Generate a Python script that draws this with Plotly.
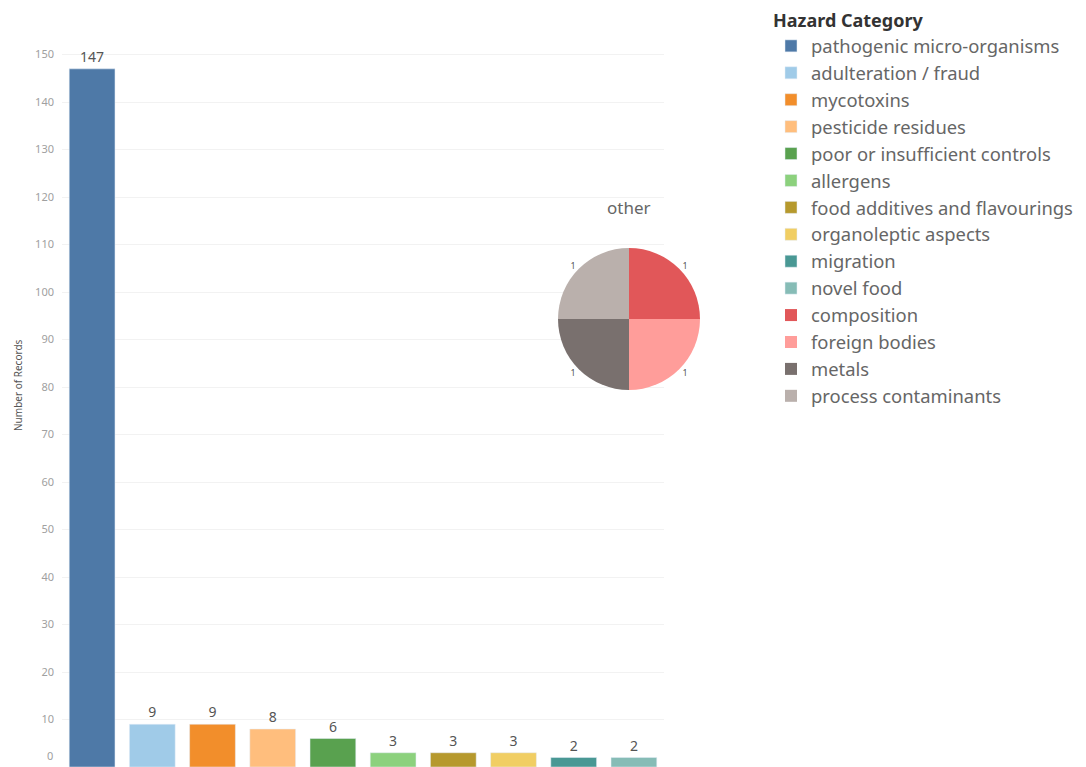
import plotly.graph_objects as go

bar_categories = ["pathogenic micro-organisms", "adulteration / fraud", "mycotoxins",
                  "pesticide residues", "poor or insufficient controls", "allergens",
                  "food additives and flavourings", "organoleptic aspects", "migration",
                  "novel food"]
bar_values = [147, 9, 9, 8, 6, 3, 3, 3, 2, 2]
bar_colors = ["#4E79A7", "#A0CBE8", "#F28E2B", "#FFBE7D", "#59A14F", "#8CD17D",
              "#B6992D", "#F1CE63", "#499894", "#86BCB6"]

pie_title = "other"
pie_categories = ["composition", "foreign bodies", "metals", "process contaminants"]
pie_values = [1, 1, 1, 1]
pie_colors = ["#E15759", "#FF9D9A", "#79706E", "#BAB0AC"]

y_ticks = list(range(0, 151, 10))
y_title = "Number of Records"
legend_title = "Hazard Category"

FONT = "Noto Sans"
W, H = 1086, 767
TICKFONT = dict(size=11, color="#a0a0a0", family=FONT)

fig = go.Figure()
for i, (cat, val, col) in enumerate(zip(bar_categories, bar_values, bar_colors)):
    fig.add_trace(go.Bar(
        x=[cat], y=[val], name=cat, marker_color=col,
        text=[val], textposition="outside", cliponaxis=False,
        textfont=dict(size=14, color="#555555", family=FONT),
        legendrank=i + 1, showlegend=True,
    ))

fig.add_trace(go.Pie(
    labels=pie_categories, values=pie_values, sort=False, direction="clockwise",
    rotation=0, marker=dict(colors=pie_colors), textinfo="value",
    textposition="outside", textfont=dict(size=9, color="#555555", family=FONT),
    domain=dict(x=[558 / W, 700 / W], y=[1 - 390 / H, 1 - 248 / H]),
    legendrank=20, hoverinfo="label+value",
))

fig.add_annotation(text=pie_title, x=629 / W, y=1 - 208 / H, xref="paper", yref="paper",
                   xanchor="center", yanchor="middle", showarrow=False,
                   font=dict(size=17, color="#666666", family=FONT))
fig.add_annotation(text=y_title, x=18 / W, y=1 - 385 / H, xref="paper", yref="paper",
                   xanchor="center", yanchor="middle", showarrow=False, textangle=-90,
                   font=dict(size=10, color="#555555", family=FONT))
# bottom tick label is nudged up so it stays inside the view (as in the reference)
fig.add_annotation(text=str(y_ticks[0]), x=55 / W, y=y_ticks[0], xref="paper", yref="y",
                   xanchor="right", yanchor="bottom", yshift=2, showarrow=False,
                   font=TICKFONT)

fig.update_layout(
    width=W, height=H,
    margin=dict(l=0, r=0, t=0, b=0),
    paper_bgcolor="white", plot_bgcolor="white",
    font=dict(family=FONT, color="#666666"),
    barmode="overlay",
    bargap=0.24,
    xaxis=dict(domain=[62 / W, 664 / W], showticklabels=False, showgrid=False,
               zeroline=False, showline=False, ticks="", automargin=False),
    yaxis=dict(range=[0, 161.5], tickvals=y_ticks[1:], showgrid=True,
               gridcolor="#f2f2f2", zeroline=False,
               tickfont=TICKFONT,
               ticks="", automargin=False, ticklabelstandoff=7),
    legend=dict(
        title=dict(text="<b>" + legend_title + "</b>",
                   font=dict(size=18, color="#333333", family=FONT)),
        x=771 / W, xanchor="left", y=1 - 4 / H, yanchor="top",
        font=dict(size=18.4, color="#666666", family=FONT),
        traceorder="normal", itemclick=False, tracegroupgap=0,
    ),
)

fig.write_html("out.html", config={"displayModeBar": False},
               post_script="document.body.style.margin='0';")
